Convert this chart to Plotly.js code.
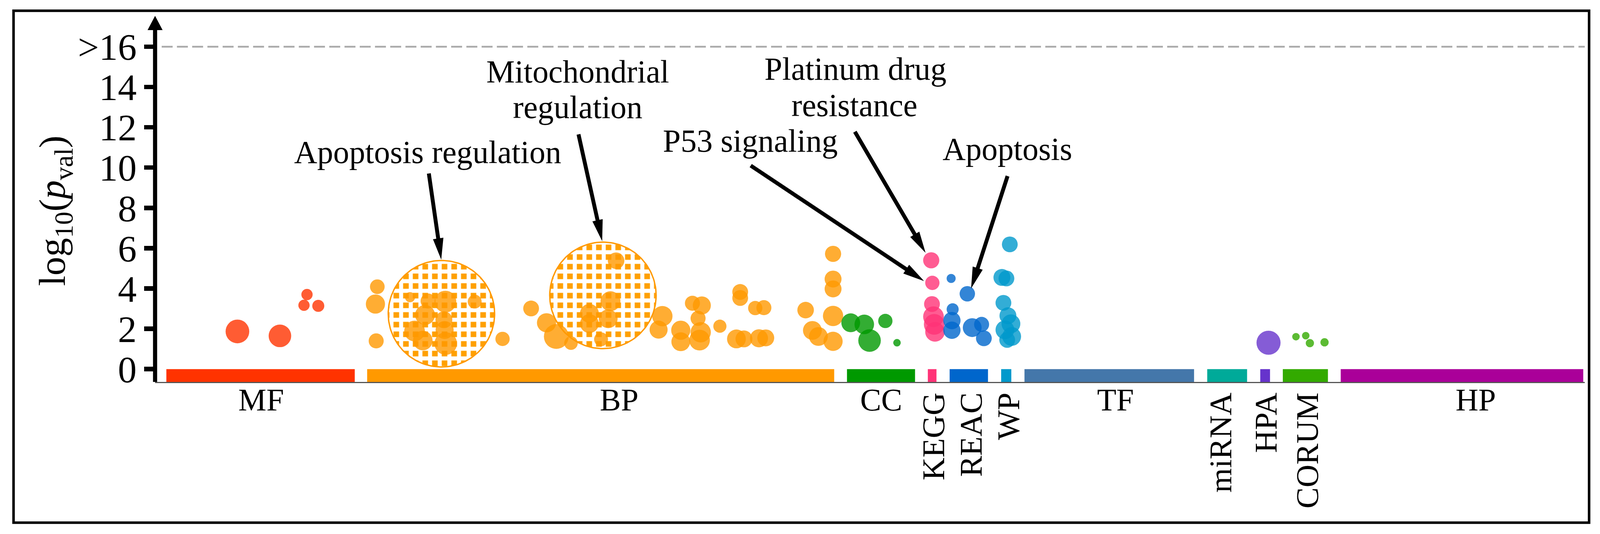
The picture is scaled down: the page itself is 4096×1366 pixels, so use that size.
<!DOCTYPE html>
<html>
<head>
<meta charset="utf-8">
<script src="https://cdn.plot.ly/plotly-3.0.1.min.js"></script>
<style>
html,body{margin:0;padding:0;background:#ffffff;}
#chart{width:4096px;height:1366px;}
</style>
</head>
<body>
<div id="chart"></div>
<script>
// ---------------- DATA ----------------
const sourceNames  = ['MF','BP','CC','KEGG','REAC','WP','TF','miRNA','HPA','CORUM','HP'];
const sourceStart  = [3.0, 56.4, 184.0, 205.5, 211.3, 225.0, 231.2, 279.8, 293.9, 299.9, 315.3];
const sourceEnd    = [53.1, 180.6, 202.1, 207.8, 221.5, 227.7, 276.3, 290.4, 296.5, 311.9, 379.8];
const sourceColors = ['#ff3300','#ff9900','#009900','#ff3377','#0066cc','#0099cc','#4477aa','#00aa99','#6633cc','#33aa00','#aa0099'];
const labelPos     = [28.2, 123.4, 193.1, 207.1, 217.1, 227.1, 255.4, 283.5, 295.5, 306.5, 351.2];
const labelRotated = [false, false, false, true, true, true, false, true, true, true, false];

// term positions (x), -log10 p values (y), term sizes (s)
const mfX = [21.9, 33.2, 40.4, 39.6, 43.4];
const mfY = [1.87, 1.65, 3.70, 3.17, 3.14];
const mfS = [63, 60, 30, 30, 32];

const bpX = [59.1, 58.6, 58.8, 67.8, 72.6, 77.2, 71.8, 69.0, 71.2, 76.8, 77.0, 77.3, 85.0, 92.4,
             100.0, 104.1, 106.7, 110.6, 122.6, 121.1, 115.5, 115.5, 120.5, 118.6, 134.9, 133.9,
             142.9, 145.4, 144.4, 139.8, 145.1, 139.8, 144.8, 150.2, 155.6, 155.6, 159.6, 161.9,
             154.6, 156.6, 160.6, 162.4, 173.0, 180.3, 180.3, 180.3, 180.3, 174.8, 176.4, 180.3];
const bpY = [4.09, 3.23, 1.40, 3.57, 3.38, 3.35, 2.69, 1.89, 1.42, 2.45, 1.94, 1.27, 3.35, 1.50,
             3.01, 2.30, 1.62, 1.29, 5.38, 3.37, 2.77, 2.26, 2.50, 1.48, 2.63, 1.96,
             3.27, 3.16, 2.52, 1.93, 1.83, 1.36, 1.44, 2.13, 3.83, 3.53, 3.03, 3.05,
             1.50, 1.50, 1.53, 1.55, 2.93, 5.72, 4.47, 3.98, 2.64, 1.92, 1.62, 1.38];
const bpS = [39, 51, 40, 27, 40, 58, 53, 55, 52, 45, 48, 60, 37, 38,
             42, 51, 66, 36, 44, 53, 50, 50, 50, 37, 54, 48,
             40, 48, 40, 51, 54, 50, 55, 35, 42, 42, 38, 40,
             50, 45, 48, 45, 44, 43, 45, 45, 54, 50, 50, 51];

const ccX = [185.0, 188.6, 190.0, 194.2, 197.3];
const ccY = [2.30, 2.22, 1.42, 2.39, 1.31];
const ccS = [50, 52, 60, 38, 20];

const keggX = [206.4, 206.7, 206.6, 207.0, 207.2, 207.4];
const keggY = [5.40, 4.28, 3.23, 2.60, 2.22, 1.85];
const keggS = [43, 38, 42, 55, 55, 52];

const reacX = [211.7, 216.0, 212.1, 211.9, 211.9, 217.3, 219.8, 220.4];
const reacY = [4.50, 3.74, 2.97, 2.41, 1.93, 2.06, 2.22, 1.53];
const reacS = [24, 41, 32, 46, 46, 50, 40, 42];

const wpX = [227.3, 225.2, 226.4, 225.6, 226.8, 227.6, 226.0, 227.8, 226.6];
const wpY = [6.19, 4.55, 4.50, 3.29, 2.65, 2.25, 1.95, 1.62, 1.45];
const wpS = [42, 45, 42, 42, 45, 50, 50, 50, 42];

const hpaX = [296.1];
const hpaY = [1.31];
const hpaS = [64];

const corumX = [303.4, 306.0, 307.1, 311.0];
const corumY = [1.61, 1.66, 1.29, 1.33];
const corumS = [20, 20, 22, 22];

const yTickVals = [0, 2, 4, 6, 8, 10, 12, 14, 16];
const yTickText = ['0', '2', '4', '6', '8', '10', '12', '14', '>16'];

// highlighted groups (circled)
const hlX = [76.15, 119.1];
const hlY = [2.75, 3.66];

// annotations: label lines and arrows
const noteText = ['Apoptosis regulation', 'Mitochondrial', 'regulation', 'Platinum drug', 'resistance', 'P53 signaling', 'Apoptosis'];
const noteX    = [72.5, 112.4, 112.4, 186.3, 186.0, 158.3, 226.7];
const noteY    = [10.77, 14.75, 13.0, 14.9, 13.09, 11.33, 10.92];
const arrowTipX  = [76.1, 118.9, 204.9, 204.5, 217.0];
const arrowTipY  = [5.43, 6.35, 5.77, 4.37, 4.0];
const arrowTailX = [72.8, 112.6, 186.1, 158.4, 226.7];
const arrowTailY = [9.71, 11.65, 11.78, 10.10, 9.58];

// ---------------- GEOMETRY / STYLE ----------------
const S = 4096 / 4255;
const W = 4096, H = 1366;
const M = {l: 397, r: 39, t: 40, b: 389};
const plotW = W - M.l - M.r, plotH = H - M.t - M.b;
const xRange = [0, 380.2];
const yRange = [-0.635, 17.54];
const kx = plotW / (xRange[1] - xRange[0]);
const ky = plotH / (yRange[1] - yRange[0]);
const FONT = 'Liberation Serif, Times New Roman, serif';
const barDepth = 0.635;

function px2paperX(p) { return (p - M.l) / plotW; }
function px2paperY(p) { return 1 - (p - M.t) / plotH; }

const traces = [];

// highlight circles with checkered pattern
const hlR = 141.5 * S;
for (let k = 0; k < hlX.length; k++) {
  const xs = [], ys = [];
  for (let i = 0; i <= 160; i++) {
    const t = 2 * Math.PI * i / 160;
    xs.push(hlX[k] + hlR * Math.cos(t) / kx);
    ys.push(hlY[k] + hlR * Math.sin(t) / ky);
  }
  traces.push({
    type: 'scatter', mode: 'lines', x: xs, y: ys, fill: 'toself',
    fillcolor: '#ffa000',
    fillpattern: {shape: '+', bgcolor: '#ffa000', fgcolor: '#ffffff', fgopacity: 1, size: 24.7, solidity: 0.66},
    line: {color: '#ff9900', width: 3.5},
    hoverinfo: 'skip', showlegend: false
  });
}

// points
const groups = [
  [mfX, mfY, mfS, 0], [bpX, bpY, bpS, 1], [ccX, ccY, ccS, 2], [keggX, keggY, keggS, 3],
  [reacX, reacY, reacS, 4], [wpX, wpY, wpS, 5], [hpaX, hpaY, hpaS, 8], [corumX, corumY, corumS, 9]
];
groups.forEach(g => {
  traces.push({
    type: 'scatter', mode: 'markers', x: g[0], y: g[1], name: sourceNames[g[3]],
    marker: {size: g[2].map(v => v * S), color: sourceColors[g[3]], opacity: 0.8, line: {width: 0}},
    showlegend: false, cliponaxis: false
  });
});

// source bars
traces.push({
  type: 'bar', xaxis: 'x2', yaxis: 'y',
  x: sourceStart.map((s, i) => (s + sourceEnd[i]) / 2),
  width: sourceStart.map((s, i) => sourceEnd[i] - s),
  y: sourceStart.map(() => barDepth),
  base: sourceStart.map(() => -barDepth),
  marker: {color: sourceColors, line: {width: 0}},
  hoverinfo: 'skip', showlegend: false
});

const annotations = [];
noteText.forEach((t, i) => {
  annotations.push({
    xref: 'x', yref: 'y', x: noteX[i], y: noteY[i], text: t, showarrow: false,
    xanchor: 'center', yanchor: 'middle', font: {family: FONT, size: 85 * S, color: '#000'}
  });
});
// y axis title
annotations.push({
  xref: 'paper', yref: 'paper', x: px2paperX(145 * S), y: px2paperY(560 * S),
  text: 'log<sub>10</sub>(<i>p</i><sub>val</sub>)', textangle: -90, showarrow: false,
  xanchor: 'center', yanchor: 'middle', font: {family: FONT, size: 100 * S, color: '#000'}
});

const shapes = [
  {type: 'line', xref: 'paper', yref: 'y', x0: px2paperX(430 * S), x1: 1, y0: 16, y1: 16,
   line: {color: '#aaaaaa', width: 4.5, dash: '28px,11px'}},
  {type: 'rect', xref: 'paper', yref: 'paper',
   x0: px2paperX(36 * S), x1: px2paperX(4226 * S), y0: px2paperY(1389 * S), y1: px2paperY(28.5 * S),
   line: {color: '#000', width: 6.5}, fillcolor: 'rgba(0,0,0,0)'}
];

// annotation arrows, built in pixel space then mapped back to data units
const headLen = 57 * S, headHalf = 14 * S, arrowLW = 10;
arrowTipX.forEach((v, i) => {
  const x1 = (arrowTailX[i] - xRange[0]) * kx, y1 = (arrowTailY[i] - yRange[0]) * ky;
  const x2 = (v - xRange[0]) * kx, y2 = (arrowTipY[i] - yRange[0]) * ky;
  const dx = x2 - x1, dy = y2 - y1, len = Math.hypot(dx, dy);
  const ux = dx / len, uy = dy / len, nx = -uy, ny = ux;
  const bx = x2 - ux * headLen, by = y2 - uy * headLen;
  const DX = p => xRange[0] + p / kx, DY = p => yRange[0] + p / ky;
  shapes.push({type: 'line', xref: 'x', yref: 'y',
    x0: DX(x1), y0: DY(y1), x1: DX(bx + ux * 3), y1: DY(by + uy * 3),
    line: {color: '#000', width: arrowLW}});
  shapes.push({type: 'path', xref: 'x', yref: 'y',
    path: 'M' + DX(x2) + ',' + DY(y2) + 'L' + DX(bx + nx * headHalf) + ',' + DY(by + ny * headHalf) +
          'L' + DX(bx - nx * headHalf) + ',' + DY(by - ny * headHalf) + 'Z',
    fillcolor: '#000', line: {width: 0}});
});

// y axis line with arrow head
shapes.push({type: 'line', xref: 'paper', yref: 'paper', x0: 0, x1: 0, y0: 0, y1: px2paperY(76 * S),
  line: {color: '#000', width: 11 * S}});
shapes.push({type: 'path', xref: 'paper', yref: 'paper',
  path: 'M0,' + px2paperY(42 * S) + 'L' + px2paperX(M.l + 20 * S) + ',' + px2paperY(80 * S) +
        'L' + px2paperX(M.l - 20 * S) + ',' + px2paperY(80 * S) + 'Z',
  fillcolor: '#000', line: {width: 0}});

const tickFontX = {family: FONT, size: 84 * S, color: '#000'};

const layout = {
  width: W, height: H,
  margin: M,
  paper_bgcolor: '#fff', plot_bgcolor: '#fff',
  showlegend: false,
  xaxis: {
    range: xRange, fixedrange: true, showgrid: false, zeroline: false,
    showline: true, linecolor: '#555555', linewidth: 3,
    tickmode: 'array',
    tickvals: labelPos.filter((v, i) => !labelRotated[i]),
    ticktext: sourceNames.filter((v, i) => !labelRotated[i]),
    ticks: '', tickangle: 0, tickfont: tickFontX, ticklabelstandoff: -27
  },
  xaxis2: {
    overlaying: 'x', anchor: 'y', side: 'bottom',
    range: xRange, fixedrange: true, showgrid: false, zeroline: false, showline: false,
    tickmode: 'array',
    tickvals: labelPos.filter((v, i) => labelRotated[i]),
    ticktext: sourceNames.filter((v, i) => labelRotated[i]),
    ticks: '', tickangle: -90, tickfont: tickFontX, ticklabelstandoff: 10
  },
  yaxis: {
    range: yRange, fixedrange: true, showgrid: false, zeroline: false, showline: false,
    tickmode: 'array', tickvals: yTickVals, ticktext: yTickText,
    ticks: 'outside', ticklen: 28 * S, tickwidth: 12 * S, tickcolor: '#000',
    tickfont: {family: FONT, size: 100 * S, color: '#000'}
  },
  annotations: annotations,
  shapes: shapes
};

Plotly.newPlot('chart', traces, layout, {staticPlot: true, displayModeBar: false});
</script>
</body>
</html>
